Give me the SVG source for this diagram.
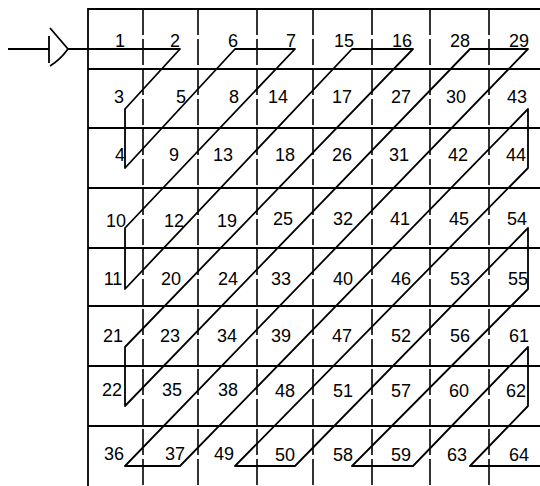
<svg xmlns="http://www.w3.org/2000/svg" width="540" height="486" viewBox="0 0 540 486">
<style>
.h{stroke:#000;stroke-width:2.2;fill:none}
.v{stroke:#000;stroke-width:1.6;fill:none;stroke-dasharray:26 4}
.b{stroke:#000;stroke-width:1.8;fill:none}
.z{stroke:#000;stroke-width:1.8;fill:none;stroke-linejoin:round;stroke-linecap:round}
text{font-family:"Liberation Sans",Arial,sans-serif;font-size:18px;fill:#000;text-anchor:middle}
</style>
<rect width="540" height="486" fill="#fff"/>
<g id="grid">
<line class="b" x1="88" y1="8" x2="88" y2="486"/>
<line class="h" x1="88" y1="9" x2="540" y2="9"/>
<line class="h" x1="88" y1="69" x2="540" y2="69"/>
<line class="h" x1="88" y1="128" x2="540" y2="128"/>
<line class="h" x1="88" y1="188" x2="540" y2="188"/>
<line class="h" x1="88" y1="248" x2="540" y2="248"/>
<line class="h" x1="88" y1="306" x2="540" y2="306"/>
<line class="h" x1="88" y1="366" x2="540" y2="366"/>
<line class="h" x1="88" y1="426" x2="540" y2="426"/>
<line class="v" x1="143" y1="9" x2="143" y2="486"/>
<line class="v" x1="198" y1="9" x2="198" y2="486"/>
<line class="v" x1="257" y1="9" x2="257" y2="486"/>
<line class="v" x1="313" y1="9" x2="313" y2="486"/>
<line class="v" x1="372" y1="9" x2="372" y2="486"/>
<line class="v" x1="430" y1="9" x2="430" y2="486"/>
<line class="v" x1="489" y1="9" x2="489" y2="486"/>
</g>
<g id="input">
<line class="b" x1="8" y1="49" x2="49" y2="49"/>
<path class="b" d="M50,28 L68,49 Q60,60 50,66 M49,36 L49,63"/>
</g>
<g id="connectors">
<path class="z" d="M68,49 L180,49 L125,109 L125,168 L235,49 L295,49 L125,228 L125,289 L352,49 L413,49 L125,347 L125,406 L470,49 L528,49 L125,466 L180,466 L528,109 L528,168 L235,466 L295,466 L528,228 L528,289 L352,466 L413,466 L528,347 L528,406 L470,466 L540,466"/>
</g>
<g id="row1"><text x="120" y="47">1</text><text x="175" y="47">2</text><text x="233" y="47">6</text><text x="291" y="47">7</text><text x="344" y="47">15</text><text x="402" y="47">16</text><text x="460" y="47">28</text><text x="519" y="47">29</text></g>
<g id="row2"><text x="119" y="103">3</text><text x="181" y="103">5</text><text x="234" y="103">8</text><text x="278" y="103">14</text><text x="342" y="103">17</text><text x="401" y="103">27</text><text x="456" y="103">30</text><text x="517" y="103">43</text></g>
<g id="row3"><text x="120" y="161">4</text><text x="174" y="161">9</text><text x="223" y="161">13</text><text x="285" y="161">18</text><text x="342" y="161">26</text><text x="399" y="161">31</text><text x="458" y="161">42</text><text x="516" y="161">44</text></g>
<g id="row4"><text x="116" y="227">10</text><text x="174" y="227">12</text><text x="227" y="227">19</text><text x="283" y="225">25</text><text x="343" y="225">32</text><text x="400" y="225">41</text><text x="459" y="225">45</text><text x="517" y="225">54</text></g>
<g id="row5"><text x="113" y="285">11</text><text x="171" y="285">20</text><text x="228" y="285">24</text><text x="281" y="285">33</text><text x="343" y="285">40</text><text x="401" y="285">46</text><text x="460" y="285">53</text><text x="518" y="285">55</text></g>
<g id="row6"><text x="113" y="342">21</text><text x="170" y="342">23</text><text x="227" y="342">34</text><text x="281" y="342">39</text><text x="342" y="342">47</text><text x="401" y="342">52</text><text x="460" y="342">56</text><text x="519" y="342">61</text></g>
<g id="row7"><text x="112" y="396">22</text><text x="172" y="396">35</text><text x="228" y="396">38</text><text x="285" y="397">48</text><text x="343" y="397">51</text><text x="401" y="397">57</text><text x="459" y="397">60</text><text x="516" y="397">62</text></g>
<g id="row8"><text x="114" y="460">36</text><text x="175" y="460">37</text><text x="224" y="460">49</text><text x="285" y="461">50</text><text x="343" y="461">58</text><text x="401" y="461">59</text><text x="457" y="461">63</text><text x="519" y="461">64</text></g>
</svg>
